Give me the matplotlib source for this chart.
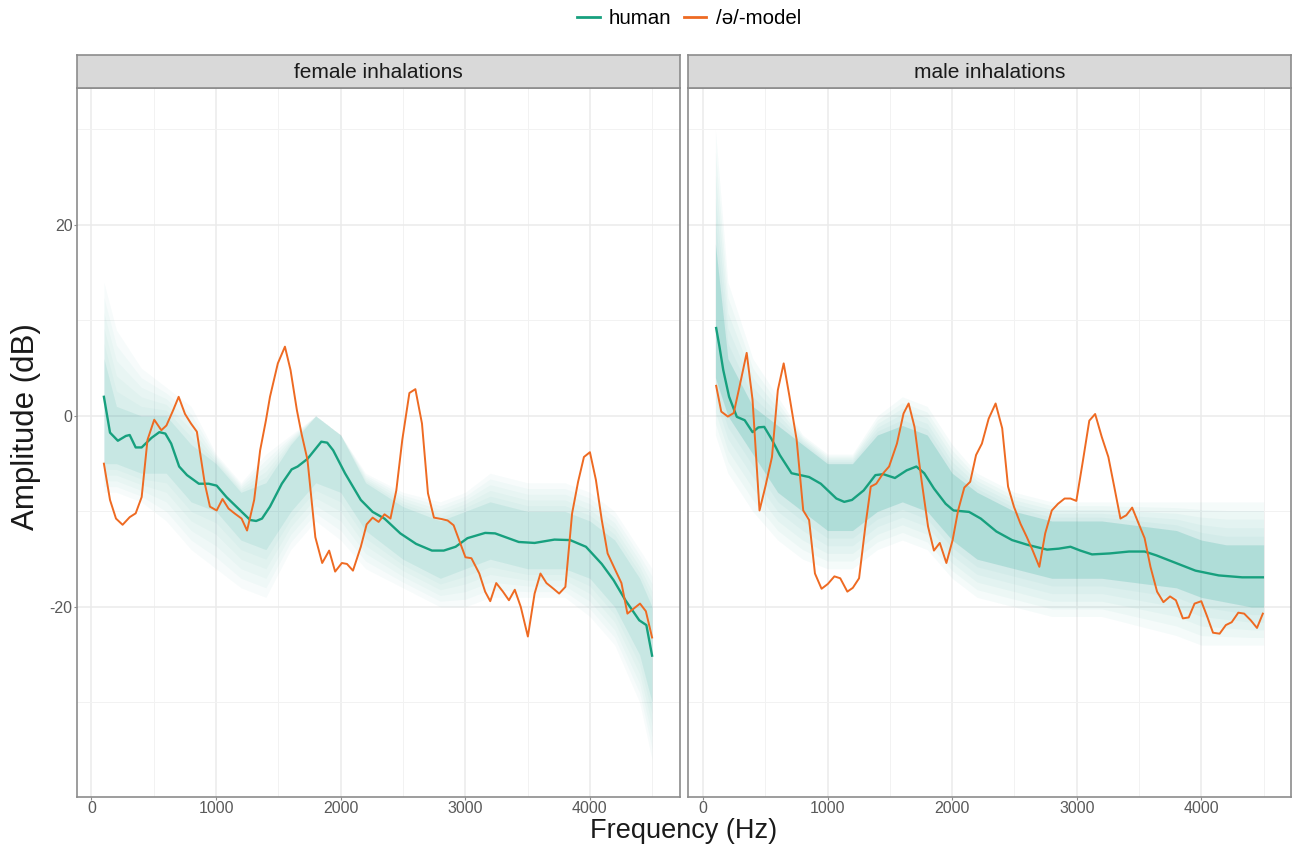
import numpy as np
import matplotlib
matplotlib.use("Agg")
import matplotlib.pyplot as plt
from matplotlib.lines import Line2D

plt.rcParams['font.family'] = ['Liberation Sans', 'DejaVu Sans']
plt.rcParams['axes.unicode_minus'] = False

TEAL = '#17A07E'
ORANGE = '#EE6A22'
BAND = '#2AA89C'

# ---- female inhalations ----
female_mean_hz = [100, 149, 212, 276, 307, 355, 403, 482, 545, 593, 640, 704, 767, 862, 941,
                  1005, 1084, 1163, 1274, 1322, 1369, 1433, 1528, 1607, 1655, 1734, 1845, 1892,
                  1940, 2035, 2162, 2257, 2352, 2479, 2606, 2733, 2828, 2923, 3018, 3160, 3240,
                  3430, 3557, 3716, 3842, 3969, 4096, 4191, 4286, 4397, 4454, 4500]
female_mean_db = [2.0, -1.75, -2.6, -2.1, -2.0, -3.3, -3.3, -2.3, -1.7, -1.85, -2.9, -5.3, -6.2,
                  -7.1, -7.1, -7.3, -8.5, -9.5, -10.9, -11.0, -10.75, -9.5, -7.1, -5.6, -5.3,
                  -4.5, -2.7, -2.8, -3.6, -6.0, -8.8, -10.05, -10.75, -12.3, -13.4, -14.1, -14.1,
                  -13.7, -12.8, -12.25, -12.3, -13.2, -13.3, -12.95, -13.0, -13.7, -15.5, -17.2,
                  -19.3, -21.4, -21.9, -25.1]

female_model_hz = [100, 149, 197, 250, 307, 355, 403, 450, 504, 561, 602, 656, 700, 751, 799,
                   846, 910, 951, 1005, 1052, 1100, 1148, 1205, 1249, 1306, 1354, 1400, 1433,
                   1496, 1553, 1598, 1649, 1686, 1734, 1797, 1852, 1908, 1956, 2010, 2051, 2099,
                   2162, 2209, 2257, 2305, 2352, 2400, 2447, 2495, 2552, 2600, 2653, 2701, 2749,
                   2812, 2859, 2907, 3002, 3050, 3113, 3160, 3201, 3249, 3303, 3351, 3398, 3446,
                   3503, 3557, 3604, 3652, 3709, 3754, 3804, 3858, 3906, 3953, 4001, 4049, 4096,
                   4143, 4207, 4254, 4302, 4350, 4403, 4450, 4500]
female_model_db = [-5.0, -8.8, -10.75, -11.4, -10.6, -10.2, -8.5, -2.5, -0.4, -1.5, -1.0, 0.6,
                   2.0, 0.2, -0.8, -1.65, -7.1, -9.5, -9.9, -8.7, -9.7, -10.2, -10.75, -12.0,
                   -8.8, -3.6, -0.5, 2.0, 5.5, 7.25, 4.8, 0.6, -1.85, -4.6, -12.7, -15.4, -14.1,
                   -16.3, -15.4, -15.5, -16.2, -13.7, -11.35, -10.65, -11.1, -10.3, -10.75, -7.8,
                   -2.5, 2.4, 2.8, -0.8, -8.1, -10.65, -10.8, -10.95, -11.45, -14.8, -14.9, -16.5,
                   -18.4, -19.4, -17.5, -18.4, -19.3, -18.2, -20.0, -23.1, -18.6, -16.5, -17.5,
                   -18.1, -18.6, -17.9, -10.2, -6.9, -4.3, -3.8, -6.7, -10.9, -14.4, -16.2, -17.5,
                   -20.7, -20.2, -19.65, -20.45, -23.2]

band_hz = [100, 200, 400, 600, 800, 1000, 1200, 1400, 1600, 1800, 2000, 2200, 2500, 2800,
           3000, 3200, 3500, 3800, 4000, 4200, 4400, 4500]

female_outer_hi = [14, 9, 5, 3, 1, -4, -7, -4, -2, 0, -2, -6, -8, -9, -8, -6, -7, -7, -8, -10, -14, -16]
female_outer_lo = [-8, -8, -9, -11, -14, -16, -18, -19, -14, -11, -13, -16, -18, -20, -20, -19,
                   -19, -19, -21, -24, -30, -36]
female_inner_hi = [6, 1, 0, 0, -3, -5, -8, -7, -3, 0, -2, -7, -9.5, -11, -10, -9, -10, -10, -11,
                   -13, -17, -20]
female_inner_lo = [-5, -5, -6, -6, -9, -10, -13, -14, -10, -7, -8, -12, -15, -17, -16, -15, -16,
                   -16, -17, -20, -25, -30]

# ---- male inhalations ----
male_mean_hz = [106, 132, 163, 210, 272, 335, 398, 445, 492, 554, 617, 711, 852, 946, 1071, 1134,
                1196, 1290, 1384, 1447, 1541, 1635, 1713, 1776, 1854, 1948, 2011, 2136, 2230,
                2355, 2481, 2606, 2762, 2856, 2950, 3029, 3123, 3264, 3420, 3545, 3639, 3796,
                3953, 4140, 4328, 4494]
male_mean_db = [9.2, 7.3, 4.8, 2.0, -0.1, -0.45, -1.7, -1.2, -1.15, -2.5, -4.1, -6.0, -6.4, -7.1,
                -8.65, -9.0, -8.8, -7.8, -6.2, -6.1, -6.5, -5.7, -5.3, -6.0, -7.6, -9.2, -9.9,
                -10.05, -10.75, -12.1, -13.0, -13.5, -14.0, -13.9, -13.7, -14.1, -14.5, -14.4,
                -14.2, -14.2, -14.6, -15.4, -16.2, -16.7, -16.9, -16.9]

male_model_hz = [106, 147, 200, 247, 294, 351, 398, 454, 501, 554, 601, 648, 695, 752, 805, 852,
                 899, 952, 1002, 1055, 1102, 1159, 1203, 1253, 1306, 1347, 1391, 1447, 1494,
                 1557, 1610, 1651, 1698, 1754, 1807, 1854, 1901, 1954, 2004, 2048, 2098, 2145,
                 2192, 2239, 2293, 2349, 2402, 2449, 2496, 2549, 2600, 2647, 2700, 2747, 2800,
                 2850, 2903, 2950, 2997, 3051, 3101, 3148, 3201, 3254, 3301, 3351, 3398, 3445,
                 3498, 3545, 3592, 3645, 3696, 3749, 3796, 3852, 3899, 3946, 4000, 4047, 4094,
                 4147, 4197, 4244, 4297, 4344, 4397, 4447, 4494]
male_model_db = [3.15, 0.45, -0.07, 0.3, 3.1, 6.6, 1.7, -9.9, -7.4, -4.3, 2.7, 5.5, 2.0, -2.5,
                 -9.9, -10.9, -16.5, -18.1, -17.6, -16.8, -17.0, -18.4, -18.0, -17.0, -11.3,
                 -7.4, -7.1, -6.0, -5.3, -2.9, 0.25, 1.3, -1.15, -6.7, -11.6, -14.1, -13.3,
                 -15.4, -13.0, -9.9, -7.5, -6.9, -4.1, -2.9, -0.3, 1.3, -1.3, -7.4, -9.5, -11.3,
                 -12.7, -14.1, -15.8, -12.3, -9.9, -9.2, -8.65, -8.65, -8.9, -4.6, -0.5, 0.2,
                 -2.2, -4.3, -7.4, -10.75, -10.4, -9.6, -11.3, -12.8, -15.8, -18.4, -19.5, -18.9,
                 -19.3, -21.2, -21.1, -19.65, -19.4, -21.0, -22.7, -22.8, -21.9, -21.6, -20.6,
                 -20.7, -21.4, -22.2, -20.7]

male_outer_hi = [30, 14, 6, 2, -2, -4, -4, 0, 2, 1, -3, -6, -8, -9, -9, -9, -9, -9, -9, -9, -9, -9]
male_outer_lo = [-2, -6, -10, -13, -15, -16, -16, -14, -13, -14, -17, -19, -20, -21, -21, -21,
                 -22, -23, -24, -24, -24, -24]
male_inner_hi = [18, 6, 1, -1, -3, -5, -5, -2, -1, -2, -6, -8, -10, -11, -11, -11, -11.5, -12,
                 -13, -13.5, -13.5, -13.5]
male_inner_lo = [4, 0, -4, -8, -10, -12, -12, -10, -9, -10, -13, -15, -16, -17, -17, -17, -17.5,
                 -18, -19, -19.5, -20, -20]

W, H = 1293, 846
fig = plt.figure(figsize=(W / 100, H / 100), dpi=100)

panels = [
    ("female inhalations", 76.5, female_mean_hz, female_mean_db, female_model_hz, female_model_db,
     female_outer_hi, female_outer_lo, female_inner_hi, female_inner_lo, 0.035, 0.07),
    ("male inhalations", 688.0, male_mean_hz, male_mean_db, male_model_hz, male_model_db,
     male_outer_hi, male_outer_lo, male_inner_hi, male_inner_lo, 0.045, 0.17),
]

top_px, bot_px, strip_px = 88.3, 797.0, 33.0
for i, (title, x0, mh, md, oh, od, ohi, olo, ihi, ilo, a_step, a_in) in enumerate(panels):
    ax = fig.add_axes([x0 / W, 1 - bot_px / H, 603 / W, (bot_px - top_px) / H])
    ax.set_xlim(-120, 4720)
    ax.set_ylim(-39.9, 34.3)
    ax.set_xticks([0, 1000, 2000, 3000, 4000])
    ax.set_xticks([500, 1500, 2500, 3500, 4500], minor=True)
    ax.set_yticks([-20, 0, 20])
    ax.set_yticks([-30, -10, 10, 30], minor=True)
    ax.grid(which='major', color='#EBEBEB', lw=1.1)
    ax.grid(which='minor', color='#F2F2F2', lw=0.7)
    ax.set_axisbelow(True)
    for s in ax.spines.values():
        s.set_color('#8C8C8C')
        s.set_linewidth(1.2)
    ax.tick_params(which='major', length=2.2, width=0.8, color='#8C8C8C',
                   labelsize=11.5, labelcolor='#5A5A5A', pad=0.6)
    ax.tick_params(which='minor', length=0)
    if i == 1:
        ax.tick_params(axis='y', which='major', length=0, labelleft=False)

    # spread of the individual spectra: soft layers from the outer to the dense core
    ohi_a, olo_a = np.array(ohi, float), np.array(olo, float)
    ihi_a, ilo_a = np.array(ihi, float), np.array(ilo, float)
    for t in np.linspace(0, 1, 6):
        ax.fill_between(band_hz, olo_a + t * (ilo_a - olo_a), ohi_a + t * (ihi_a - ohi_a),
                        color=BAND, alpha=a_step, lw=0)
    ax.fill_between(band_hz, ilo, ihi, color=BAND, alpha=a_in, lw=0)

    ax.plot(mh, md, color=TEAL, lw=1.7, zorder=4)
    ax.plot(oh, od, color=ORANGE, lw=1.4, zorder=5)

    sax = fig.add_axes([x0 / W, 1 - top_px / H, 603 / W, strip_px / H])
    sax.set_facecolor('#D9D9D9')
    sax.set_xticks([])
    sax.set_yticks([])
    for s in sax.spines.values():
        s.set_color('#8C8C8C')
        s.set_linewidth(1.2)
    sax.text(0.5, 0.47, title, ha='center', va='center', fontsize=15, color='#1A1A1A',
             transform=sax.transAxes)

fig.text(683.5 / W, 1 - 838 / H, "Frequency (Hz)", ha='center', va='baseline',
         fontsize=19.5, color='#1A1A1A')
fig.text(26 / W, 1 - 426.5 / H, "Amplitude (dB)", ha='center', va='center', rotation=90,
         fontsize=22.5, color='#1A1A1A')

handles = [Line2D([], [], color=TEAL, lw=2), Line2D([], [], color=ORANGE, lw=2)]
fig.legend(handles, ["human", "/ə/-model"], loc='center', bbox_to_anchor=(689 / W, 1 - 19 / H),
           ncol=2, frameon=False, fontsize=14.8, handlelength=1.1, handletextpad=0.45,
           columnspacing=0.6, borderpad=0)

fig.savefig("out.png", dpi=100)
